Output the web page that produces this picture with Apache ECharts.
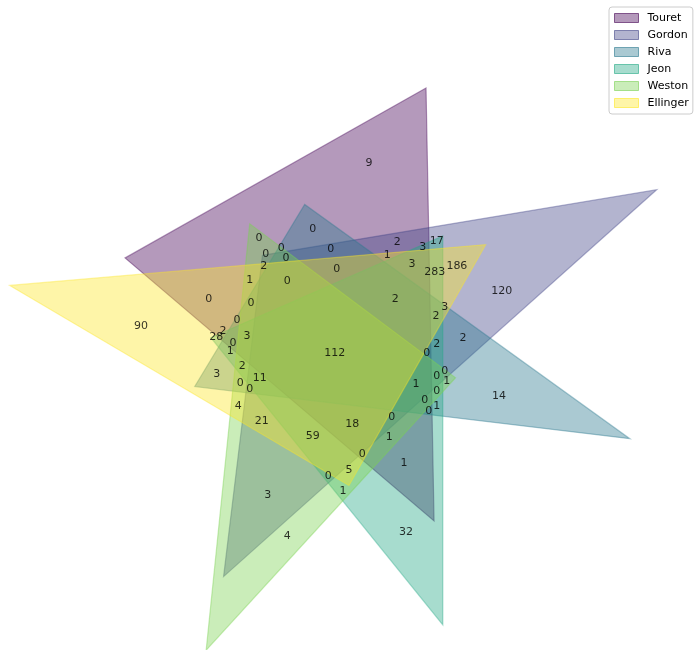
<!DOCTYPE html>
<html>
<head>
<meta charset="utf-8">
<script src="https://cdn.jsdelivr.net/npm/echarts@6/dist/echarts.min.js"></script>
<style>
html,body{margin:0;padding:0;background:#fff;}
#chart{width:695px;height:650px;}
</style>
</head>
<body>
<div id="chart"></div>
<script>
// Set names (legend) and colours (viridis, 6 levels)
const setNames = ['Touret', 'Gordon', 'Riva', 'Jeon', 'Weston', 'Ellinger'];
const setColors = ['#440154', '#414487', '#2a788e', '#22a884', '#7ad151', '#fde725'];

// Triangle shapes of the 6-set Venn diagram (x1,y1,x2,y2,x3,y3), in diagram units
const triangles = [
  [0.637, 0.921, 0.649, 0.274, 0.188, 0.667],
  [0.981, 0.769, 0.335, 0.191, 0.393, 0.671],
  [0.941, 0.397, 0.292, 0.475, 0.456, 0.747],
  [0.662, 0.119, 0.316, 0.548, 0.662, 0.700],
  [0.309, 0.081, 0.374, 0.718, 0.681, 0.488],
  [0.016, 0.626, 0.726, 0.687, 0.522, 0.327]
];

// Region counts
const regionCounts = [
  9, 0, 0, 0, 0, 0, 0, 2, 3, 17,
  1, 2, 3, 0, 283, 186, 1, 0, 120, 0,
  2, 0, 90, 3, 0, 2, 2, 28, 0, 3,
  2, 2, 1, 112, 0, 2, 3, 11, 0, 0,
  0, 0, 1, 1, 0, 0, 1, 0, 4, 14,
  21, 0, 18, 59, 1, 0, 1, 5, 0, 1,
  3, 4, 32
];

// Where each region's count is anchored, in diagram units
const regionAnchors = [
  [0.552, 0.809], [0.468, 0.710], [0.388, 0.697], [0.421, 0.682], [0.398, 0.673],
  [0.428, 0.666], [0.495, 0.680], [0.594, 0.691], [0.632, 0.683], [0.653, 0.692],
  [0.579, 0.671], [0.395, 0.655], [0.616, 0.658], [0.504, 0.651], [0.650, 0.646],
  [0.683, 0.655], [0.374, 0.634], [0.430, 0.633], [0.750, 0.618], [0.313, 0.606],
  [0.591, 0.606], [0.376, 0.600], [0.212, 0.565], [0.665, 0.594], [0.355, 0.574],
  [0.652, 0.580], [0.334, 0.558], [0.324, 0.549], [0.349, 0.540], [0.370, 0.550],
  [0.692, 0.547], [0.653, 0.539], [0.345, 0.528], [0.501, 0.525], [0.638, 0.525],
  [0.363, 0.506], [0.325, 0.494], [0.389, 0.488], [0.360, 0.480], [0.374, 0.471],
  [0.665, 0.498], [0.653, 0.491], [0.668, 0.483], [0.622, 0.479], [0.653, 0.468],
  [0.635, 0.455], [0.653, 0.446], [0.641, 0.438], [0.357, 0.446], [0.746, 0.461],
  [0.392, 0.423], [0.586, 0.429], [0.527, 0.418], [0.468, 0.401], [0.582, 0.400],
  [0.542, 0.374], [0.604, 0.361], [0.522, 0.350], [0.491, 0.341], [0.513, 0.319],
  [0.401, 0.313], [0.430, 0.252], [0.607, 0.258]
];

function hexToRgba(hex, a) {
  const n = parseInt(hex.slice(1), 16);
  return 'rgba(' + ((n >> 16) & 255) + ',' + ((n >> 8) & 255) + ',' + (n & 255) + ',' + a + ')';
}

const chart = echarts.init(document.getElementById('chart'), null, {renderer: 'canvas'});

const triangleSeries = triangles.map(function (tri, i) {
  return {
    type: 'custom',
    name: setNames[i],
    coordinateSystem: 'cartesian2d',
    silent: true,
    z: 2 + i,
    itemStyle: {color: hexToRgba(setColors[i], 0.4)},
    data: [tri],
    renderItem: function (params, api) {
      const pts = [];
      for (let k = 0; k < 3; k++) {
        pts.push(api.coord([api.value(2 * k), api.value(2 * k + 1)]));
      }
      return {
        type: 'polygon',
        shape: {points: pts},
        style: {
          fill: hexToRgba(setColors[i], 0.4),
          stroke: hexToRgba(setColors[i], 0.4),
          lineWidth: 1.2
        }
      };
    }
  };
});

const labelData = regionCounts.map(function (c, i) {
  return [regionAnchors[i][0], regionAnchors[i][1], c];
});

const labelSeries = {
  type: 'scatter',
  silent: true,
  z: 20,
  symbolSize: 0,
  data: labelData,
  label: {
    show: true,
    position: 'inside',
    formatter: function (p) { return String(p.value[2]); },
    color: '#000',
    fontSize: 11,
    fontFamily: 'DejaVu Sans'
  },
  emphasis: {disabled: true}
};

chart.setOption({
  animation: false,
  backgroundColor: '#fff',
  grid: {left: 0, right: 0, top: 0, bottom: 0, containLabel: false},
  xAxis: {type: 'value', min: 0.0015, max: 1.0382, show: false},
  yAxis: {type: 'value', min: 0.0813, max: 1.0524, show: false},
  legend: {
    orient: 'vertical',
    left: 609,
    top: 7,
    padding: [5, 4, 5, 5],
    itemWidth: 24,
    itemHeight: 9,
    itemGap: 5,
    icon: 'rect',
    backgroundColor: 'rgba(255,255,255,0.8)',
    borderColor: '#cccccc',
    borderWidth: 1,
    borderRadius: 3,
    selectedMode: false,
    textStyle: {fontSize: 11, fontFamily: 'DejaVu Sans', color: '#000', lineHeight: 12, padding: [0, 0, 0, 4]},
    data: setNames.map(function (n, i) {
      return {
        name: n,
        itemStyle: {color: hexToRgba(setColors[i], 0.4), borderColor: hexToRgba(setColors[i], 0.6), borderWidth: 1}
      };
    })
  },
  series: triangleSeries.concat([labelSeries])
});
</script>
</body>
</html>
